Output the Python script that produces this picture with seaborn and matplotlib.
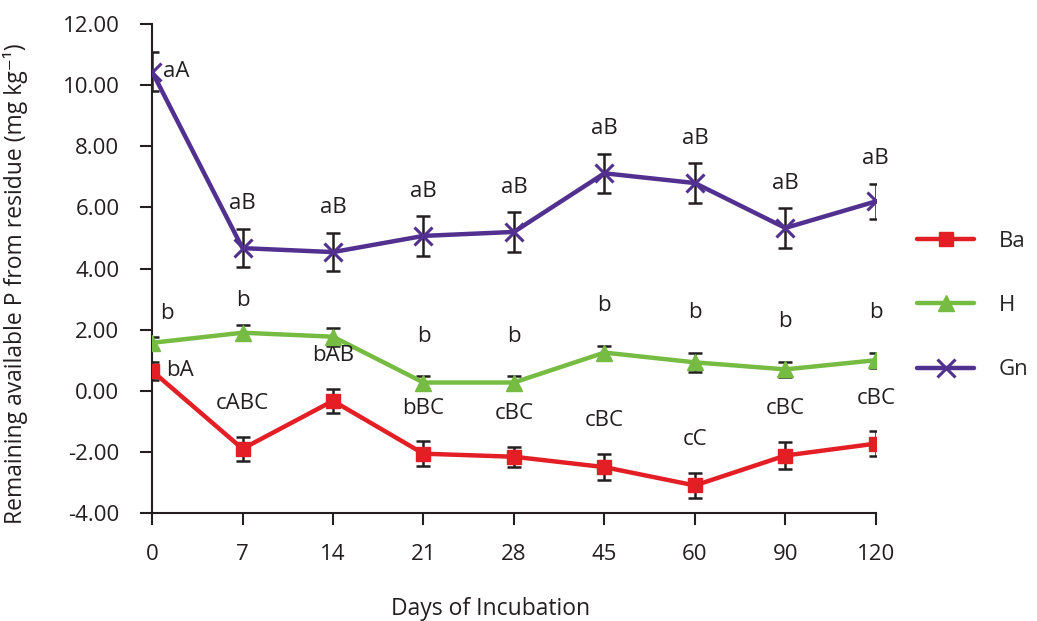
import numpy as np
import pandas as pd
import matplotlib
matplotlib.use('Agg')
import matplotlib.pyplot as plt
import seaborn as sns

# Data
days = ['0', '7', '14', '21', '28', '45', '60', '90', '120']
series = ['Ba', 'H', 'Gn']

ba_vals = [0.65, -1.90, -0.33, -2.06, -2.16, -2.50, -3.10, -2.12, -1.73]
ba_err = [0.30, 0.40, 0.40, 0.40, 0.33, 0.42, 0.42, 0.44, 0.40]
ba_labels = ['bA', 'cABC', 'bAB', 'bBC', 'cBC', 'cBC', 'cC', 'cBC', 'cBC']

h_vals = [1.57, 1.90, 1.77, 0.27, 0.27, 1.25, 0.93, 0.70, 1.00]
h_err = [0.20, 0.25, 0.30, 0.20, 0.20, 0.22, 0.30, 0.25, 0.25]
h_labels = ['b', '', '', 'b', 'b', 'b', 'b', 'b', 'b']
h_labels_mid = ['', 'b', '', '', '', '', '', '', '']

gn_vals = [10.45, 4.67, 4.54, 5.07, 5.20, 7.12, 6.80, 5.33, 6.20]
gn_err = [0.65, 0.63, 0.63, 0.65, 0.65, 0.64, 0.65, 0.64, 0.57]
gn_labels = ['aA', 'aB', 'aB', 'aB', 'aB', 'aB', 'aB', 'aB', 'aB']

colors = {'Ba': '#E31E25', 'H': '#76BC43', 'Gn': '#51308F'}

sns.set_theme(style='ticks')
plt.rcParams['font.family'] = ['Open Sans', 'DejaVu Sans']
plt.rcParams['axes.unicode_minus'] = False

pos = np.arange(len(days))
df = pd.DataFrame({
    'pos': np.tile(pos, 3),
    'value': ba_vals + h_vals + gn_vals,
    'err': ba_err + h_err + gn_err,
    'series': np.repeat(series, len(days)),
})

fig = plt.figure(figsize=(10.37, 6.21), dpi=100)
ax = fig.add_axes([0.1466, 0.174, 0.698, 0.787])

# error bars first so markers sit on top
for s in series:
    d = df[df['series'] == s]
    ax.errorbar(d['pos'], d['value'], yerr=d['err'], fmt='none', ecolor='#231F20',
                elinewidth=1.8, capsize=5, capthick=1.8, zorder=2)

sns.lineplot(data=df, x='pos', y='value', hue='series', hue_order=series,
             palette=colors, legend=False, linewidth=3.2, ax=ax, zorder=3)
for s in series:
    d = df[df['series'] == s]
    if s == 'Gn':
        ax.plot(d['pos'], d['value'], linestyle='none', marker='x', markersize=13,
                markeredgewidth=2.2, color=colors[s], zorder=4)
    elif s == 'Ba':
        ax.plot(d['pos'], d['value'], linestyle='none', marker='s', markersize=10,
                color=colors[s], zorder=4)
    else:
        ax.plot(d['pos'], d['value'], linestyle='none', marker='^', markersize=12,
                color=colors[s], zorder=4)

# significance letters
fs = 16
txt_kw = dict(textcoords='offset points', ha='center', va='center', fontsize=fs, color='#231F20')
for i in range(len(days)):
    if i == 0:
        ax.annotate(gn_labels[i], (pos[i], gn_vals[i]), xytext=(8, 0),
                    textcoords='offset points', ha='left', va='center', fontsize=fs, color='#231F20')
        ax.annotate(ba_labels[i], (pos[i], ba_vals[i]), xytext=(10, 0),
                    textcoords='offset points', ha='left', va='center', fontsize=fs, color='#231F20')
        ax.annotate(h_labels[i], (pos[i], h_vals[i]), xytext=(11, 21), **txt_kw)
        continue
    ax.annotate(gn_labels[i], (pos[i], gn_vals[i] + gn_err[i]), xytext=(0, 18), **txt_kw)
    ax.annotate(ba_labels[i], (pos[i], ba_vals[i] + ba_err[i]), xytext=(0, 24), **txt_kw)
    if h_labels[i]:
        ax.annotate(h_labels[i], (pos[i], h_vals[i] + h_err[i]), xytext=(0, 29), **txt_kw)
    if h_labels_mid[i]:
        ax.annotate(h_labels_mid[i], (pos[i], gn_vals[i] - gn_err[i]), xytext=(0, -24), **txt_kw)

ax.set_xlim(0, len(days) - 1)
ax.set_ylim(-4, 12)
ax.set_xticks(pos)
ax.set_xticklabels(days)
ax.set_yticks(np.arange(-4, 12.1, 2))
ax.set_yticklabels([f'{v:.2f}' for v in np.arange(-4, 12.1, 2)])
ax.tick_params(axis='both', direction='out', length=8.5, width=1.5, labelsize=fs,
               color='#231F20', labelcolor='#231F20')
ax.tick_params(axis='x', pad=14)
ax.tick_params(axis='y', pad=15)
for sp in ['left', 'bottom']:
    ax.spines[sp].set_linewidth(1.5)
    ax.spines[sp].set_color('#231F20')
sns.despine(ax=ax)

ax.set_xlabel('Days of Incubation', fontsize=16.5, color='#231F20')
ax.xaxis.set_label_coords(0.468, -0.172)
ax.set_ylabel('Remaining available P from residue (mg kg⁻¹)', fontsize=16.5, color='#231F20')
ax.yaxis.set_label_coords(-0.171, 0.47)

# legend on the right
handles = [plt.Line2D([], [], color=colors['Ba'], marker='s', markersize=10, linewidth=3.2),
           plt.Line2D([], [], color=colors['H'], marker='^', markersize=12, linewidth=3.2),
           plt.Line2D([], [], color=colors['Gn'], marker='x', markersize=13,
                      markeredgewidth=2.2, linewidth=3.2)]
fig.legend(handles, series, loc='center left', bbox_to_anchor=(0.884, 0.508),
           frameon=False, fontsize=fs, labelspacing=1.95, handlelength=2.6,
           handletextpad=1.1, borderpad=0, borderaxespad=0)

fig.savefig('out.png', dpi=100)
